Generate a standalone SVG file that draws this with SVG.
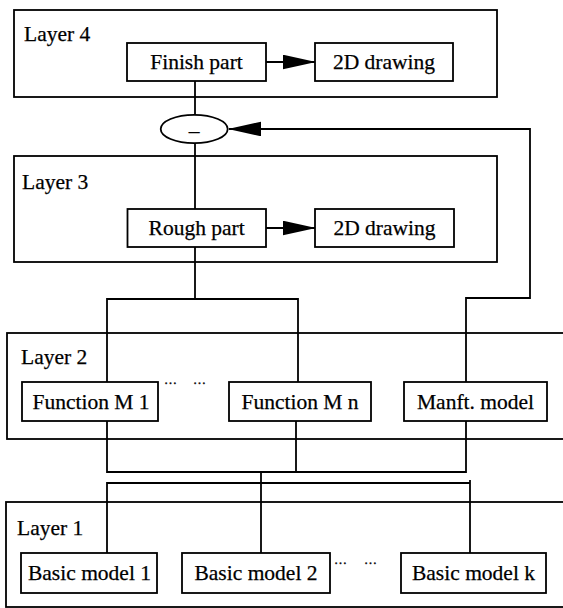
<svg xmlns="http://www.w3.org/2000/svg" width="563" height="608" viewBox="0 0 563 608">
  <style>
    .box { fill: #fff; stroke: #000; stroke-width: 1.8; }
    .layer { fill: none; stroke: #000; stroke-width: 1.8; }
    .lbl { font-family: "Liberation Serif", "Times New Roman", serif; font-size: 21.5px; fill: #000; stroke: #000; stroke-width: 0.25; }
    .mid { text-anchor: middle; }
    .dots { font-family: "Liberation Serif", serif; font-size: 13px; fill: #000; stroke: #000; stroke-width: 0.4; }
    .wire { fill: none; stroke: #000; stroke-width: 1.8; }
  </style>
  <defs>
    <marker id="arrow" markerUnits="userSpaceOnUse" markerWidth="33" markerHeight="15" refX="32" refY="7.3" orient="auto">
      <path d="M0,0 L33,7.3 L0,14.6 Z" fill="#000"/>
    </marker>
  </defs>
  <rect width="563" height="608" fill="#fff"/>

  <!-- Layer containers -->
  <g id="layer4">
    <rect class="layer" x="14" y="10" width="483" height="87"/>
    <text class="lbl" x="24" y="41">Layer 4</text>
  </g>
  <g id="layer3">
    <rect class="layer" x="14" y="156" width="483" height="106"/>
    <text class="lbl" x="22" y="189">Layer 3</text>
  </g>
  <g id="layer2">
    <rect class="layer" x="7" y="333" width="570" height="106"/>
    <text class="lbl" x="21" y="364">Layer 2</text>
  </g>
  <g id="layer1">
    <rect class="layer" x="6" y="502" width="570" height="105"/>
    <text class="lbl" x="17" y="535">Layer 1</text>
  </g>

  <!-- Connectors -->
  <g id="connectors">
    <line class="wire" x1="266" y1="62" x2="315" y2="62" marker-end="url(#arrow)"/>
    <line class="wire" x1="266" y1="228" x2="315" y2="228" marker-end="url(#arrow)"/>
    <line class="wire" x1="195" y1="81" x2="195" y2="115"/>
    <line class="wire" x1="195" y1="143" x2="195" y2="209"/>
    <polyline class="wire" points="466,382 466,298 530,298 530,129 229,129" marker-end="url(#arrow)"/>
    <line class="wire" x1="195" y1="247" x2="195" y2="299"/>
    <polyline class="wire" points="107,382 107,299 298,299 298,382"/>
    <polyline class="wire" points="107,421 107,472 466,472 466,421"/>
    <line class="wire" x1="296" y1="421" x2="296" y2="472"/>
    <line class="wire" x1="261" y1="472" x2="261" y2="553"/>
    <polyline class="wire" points="107,553 107,483 470,483"/>
    <line class="wire" x1="470" y1="480" x2="470" y2="553"/>
  </g>

  <!-- Layer 4 nodes -->
  <g id="finish-part">
    <rect class="box" x="127" y="43" width="139" height="38"/>
    <text class="lbl mid" x="196.5" y="69">Finish part</text>
  </g>
  <g id="drawing-4">
    <rect class="box" x="315" y="43" width="138" height="38"/>
    <text class="lbl mid" x="384" y="69">2D drawing</text>
  </g>

  <!-- Difference operator -->
  <g id="difference">
    <ellipse class="box" cx="194.2" cy="129" rx="33.5" ry="14.2"/>
    <text class="lbl mid" x="194.2" y="138">–</text>
  </g>

  <!-- Layer 3 nodes -->
  <g id="rough-part">
    <rect class="box" x="127.5" y="209" width="138.5" height="38"/>
    <text class="lbl mid" x="196.7" y="235">Rough part</text>
  </g>
  <g id="drawing-3">
    <rect class="box" x="315" y="209" width="139" height="38"/>
    <text class="lbl mid" x="384.5" y="235">2D drawing</text>
  </g>

  <!-- Layer 2 nodes -->
  <g id="function-m1">
    <rect class="box" x="22" y="382" width="136" height="39"/>
    <text class="lbl mid" x="91" y="408.5">Function M 1</text>
  </g>
  <g id="dots-2">
    <text class="dots" x="164" y="384">…</text>
    <text class="dots" x="193" y="384">…</text>
  </g>
  <g id="function-mn">
    <rect class="box" x="229" y="382" width="142" height="39"/>
    <text class="lbl mid" x="300" y="408.5">Function M n</text>
  </g>
  <g id="manft-model">
    <rect class="box" x="404" y="382" width="143" height="39"/>
    <text class="lbl mid" x="475.5" y="408.5">Manft. model</text>
  </g>

  <!-- Layer 1 nodes -->
  <g id="basic-model-1">
    <rect class="box" x="21" y="553" width="136" height="40"/>
    <text class="lbl mid" x="89.5" y="580">Basic model 1</text>
  </g>
  <g id="basic-model-2">
    <rect class="box" x="182" y="553" width="148" height="40"/>
    <text class="lbl mid" x="256" y="580">Basic model 2</text>
  </g>
  <g id="dots-1">
    <text class="dots" x="334" y="564">…</text>
    <text class="dots" x="364" y="564">…</text>
  </g>
  <g id="basic-model-k">
    <rect class="box" x="401" y="553" width="145" height="40"/>
    <text class="lbl mid" x="473.5" y="580">Basic model k</text>
  </g>
</svg>
